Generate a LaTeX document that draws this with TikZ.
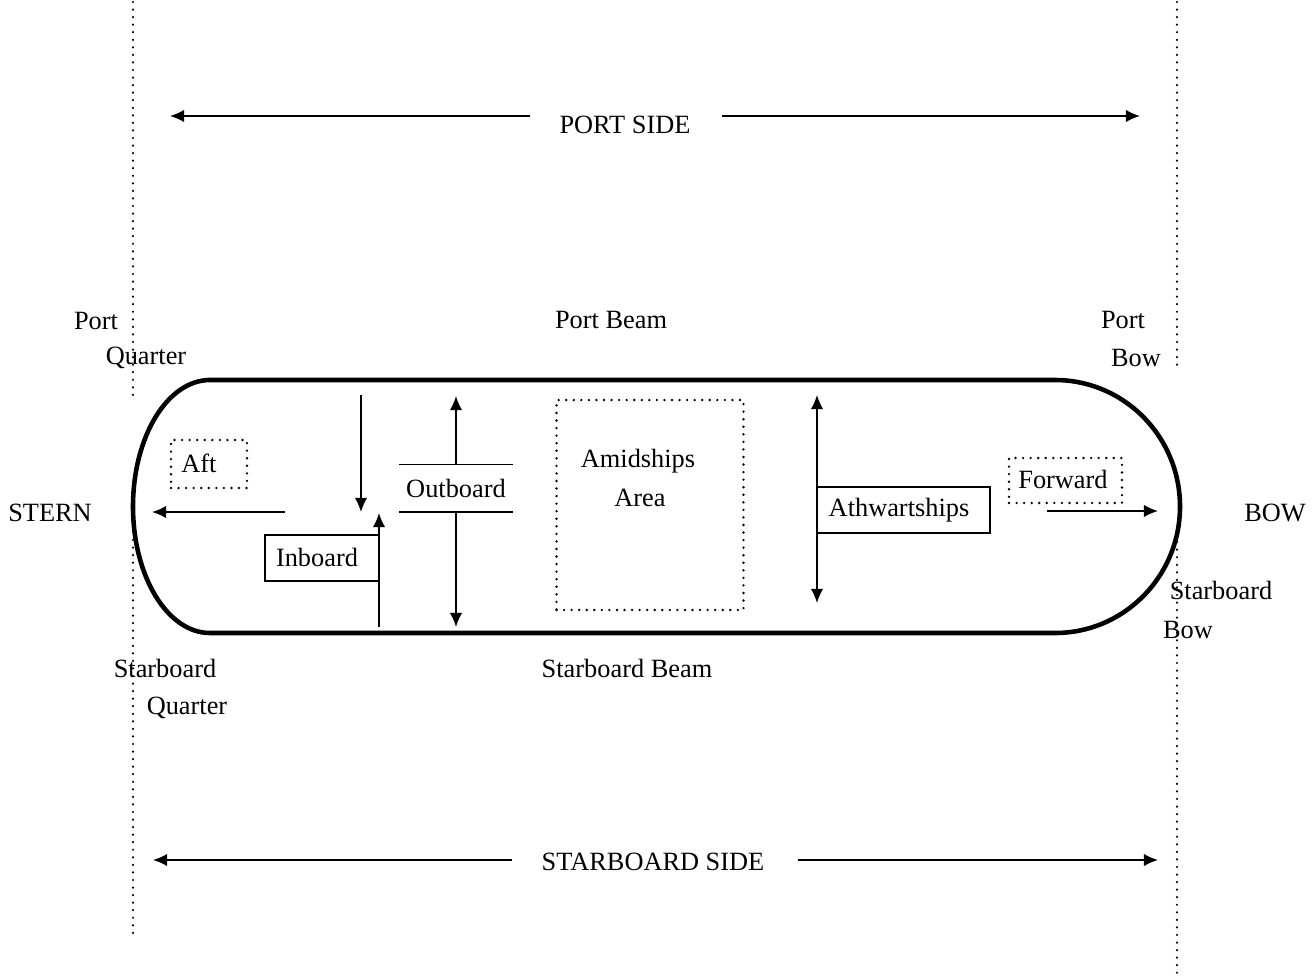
\documentclass[tikz,border=0pt]{standalone}
\usepackage{fontspec}
\setmainfont{Liberation Serif}
\usetikzlibrary{arrows.meta}
\begin{document}
\begin{tikzpicture}[x=0.02cm,y=-0.02cm,
  every node/.style={font=\fontsize{15}{17}\selectfont, inner sep=0pt},
  arr/.style={line width=0.85pt,-{Latex[length=8pt,width=7pt]}},
  darr/.style={line width=0.85pt,{Latex[length=8pt,width=7pt]}-{Latex[length=8pt,width=7pt]}},
  dotbox/.style={draw, line width=1.5pt, dash pattern=on 0pt off 4.3pt, line cap=round},
  solidbox/.style={draw, line width=0.85pt},
  rule/.style={line width=0.75pt},
  hull/.style={line width=2.6pt},
  guide/.style={line width=1.4pt, dash pattern=on 0pt off 4.3pt, line cap=round}]
\useasboundingbox (0,0) rectangle (1316,975);

% guide lines
\coordinate (gla) at (133,2); \coordinate (glb) at (133,395);
\coordinate (glc) at (133,540); \coordinate (gld) at (133,935);
\coordinate (gra) at (1177,2); \coordinate (grb) at (1177,369);
\coordinate (grc) at (1177,527); \coordinate (grd) at (1177,975);
\draw[guide] (gla) -- (glb);
\draw[guide] (glc) -- (gld);
\draw[guide] (gra) -- (grb);
\draw[guide] (grc) -- (grd);

% hull
\draw[hull] (210,380) -- (1055,380)
  arc[start angle=-90, end angle=90, x radius=125, y radius=126.5]
  -- (210,633)
  arc[start angle=90, end angle=270, x radius=77, y radius=126.5] -- cycle;

% side labels
\node (portside) at (625,125) {PORT SIDE};
\coordinate (psl) at (170,116); \coordinate (psr) at (1140,116);
\coordinate (psla) at (530,116); \coordinate (psra) at (722,116);
\draw[arr] (psla) -- (psl);
\draw[arr] (psra) -- (psr);

\node (stbdside) at (653,862) {STARBOARD SIDE};
\coordinate (ssl) at (153,860); \coordinate (ssr) at (1158,860);
\coordinate (ssla) at (512,860); \coordinate (ssra) at (798,860);
\draw[arr] (ssla) -- (ssl);
\draw[arr] (ssra) -- (ssr);

\node (portbeam) at (611,320) {Port Beam};
\node (stbdbeam) at (627,668) {Starboard Beam};
\node (pq1) at (96,321) {Port};
\node (pq2) at (146,358) {Quarter};
\node (pb1) at (1123,320) {Port};
\node (pb2) at (1136,358) {Bow};
\node (stern) at (50,513) {STERN};
\node (bow) at (1275,513) {BOW};
\node (sb1) at (1221,590) {Starboard};
\node (sb2) at (1188,630) {Bow};
\node (sq1) at (165,668) {Starboard};
\node (sq2) at (187,708) {Quarter};

% aft
\node[dotbox, minimum width=1.52cm, minimum height=0.96cm] (aft) at (209,464) {};
\node (afttext) at (199,463) {Aft};
\coordinate (aftS) at (285,512); \coordinate (aftE) at (152,512);
\draw[arr] (aftS) -- (aftE);

% inboard
\coordinate (inA) at (361,395); \coordinate (inB) at (361,512);
\draw[arr] (inA) -- (inB);
\node[solidbox, minimum width=2.28cm, minimum height=0.92cm] (inboard) at (322,558) {};
\node (inboardtext) at (317,557) {Inboard};
\coordinate (upS) at (379,627); \coordinate (upE) at (379,513);
\draw[arr] (upS) -- (upE);

% outboard
\node[minimum width=2.26cm, minimum height=0.94cm] (outboard) at (456,488) {Outboard};
\draw[rule] (outboard.north west) -- (outboard.north east);
\draw[rule] (outboard.south west) -- (outboard.south east);
\coordinate (obT) at (456,396); \coordinate (obB) at (456,627);
\draw[arr] (outboard.north) -- (obT);
\draw[arr] (outboard.south) -- (obB);

% amidships
\node[dotbox, minimum width=3.74cm, minimum height=4.2cm] (amid) at (650,505) {};
\node (amid1) at (638,461) {Amidships};
\node (amid2) at (640,498) {Area};

% athwartships
\coordinate (athT) at (817,395); \coordinate (athB) at (817,603);
\draw[darr] (athT) -- (athB);
\node[solidbox, minimum width=3.46cm, minimum height=0.92cm] (ath) at (903.5,510) {};
\node (athtext) at (899,510) {Athwartships};

% forward
\node[dotbox, minimum width=2.26cm, minimum height=0.9cm] (fwd) at (1065.5,480.5) {};
\node (fwdtext) at (1063,479) {Forward};
\coordinate (fwdS) at (1047,511); \coordinate (fwdE) at (1158,511);
\draw[arr] (fwdS) -- (fwdE);
\end{tikzpicture}
\end{document}
